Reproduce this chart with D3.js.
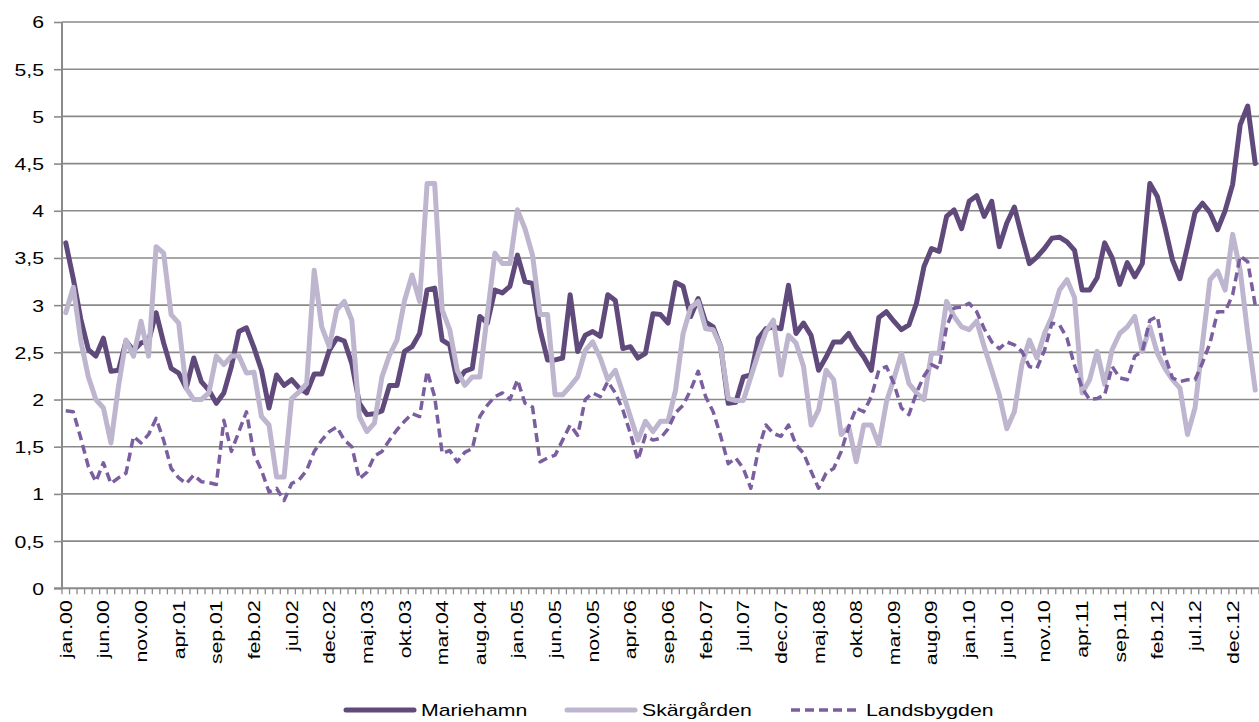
<!DOCTYPE html>
<html>
<head>
<meta charset="utf-8">
<script src="https://cdn.jsdelivr.net/npm/d3@7"></script>
<style>
  html, body { margin: 0; padding: 0; background: #fff; }
  svg { display: block; font-family: "Liberation Sans", Arial, sans-serif; }
</style>
</head>
<body>
<svg id="chart" width="1259" height="722"></svg>
<script>
// ---- Data ----
const monthNames = ["jan","feb","mar","apr","maj","jun","jul","aug","sep","okt","nov","dec"];
const startYear = 2000;
const monthCount = 159; // jan.00 – mar.13

const tickLabels = ["jan.00","jun.00","nov.00","apr.01","sep.01","feb.02","jul.02","dec.02","maj.03","okt.03",
  "mar.04","aug.04","jan.05","jun.05","nov.05","apr.06","sep.06","feb.07","jul.07","dec.07",
  "maj.08","okt.08","mar.09","aug.09","jan.10","jun.10","nov.10","apr.11","sep.11","feb.12",
  "jul.12","dec.12"];

const yTicks = [0,0.5,1,1.5,2,2.5,3,3.5,4,4.5,5,5.5,6];

const seriesNames = ["Mariehamn","Skärgården","Landsbygden"];

const mariehamn = [3.66,3.28,2.85,2.53,2.46,2.65,2.30,2.31,2.62,2.52,2.60,2.62,2.92,2.60,2.33,2.28,2.12,2.44,2.19,2.10,
  1.96,2.07,2.35,2.72,2.76,2.55,2.31,1.91,2.26,2.15,2.21,2.12,2.07,2.27,2.27,2.52,2.65,2.62,2.38,1.96,
  1.84,1.85,1.88,2.15,2.15,2.51,2.56,2.70,3.16,3.18,2.63,2.58,2.19,2.30,2.33,2.88,2.81,3.16,3.13,3.20,
  3.53,3.25,3.23,2.74,2.42,2.42,2.44,3.11,2.51,2.68,2.72,2.67,3.11,3.05,2.54,2.56,2.44,2.49,2.91,2.90,
  2.81,3.24,3.20,2.88,3.07,2.82,2.77,2.56,1.96,1.97,2.24,2.26,2.65,2.75,2.77,2.75,3.21,2.70,2.81,2.68,
  2.31,2.45,2.61,2.61,2.70,2.56,2.45,2.31,2.87,2.93,2.83,2.74,2.79,3.02,3.41,3.60,3.57,3.94,4.01,3.81,
  4.10,4.16,3.94,4.10,3.62,3.87,4.04,3.73,3.44,3.51,3.60,3.71,3.72,3.67,3.58,3.16,3.16,3.29,3.66,3.50,
  3.22,3.45,3.30,3.44,4.29,4.15,3.83,3.48,3.28,3.62,3.98,4.08,3.98,3.80,4.00,4.28,4.91,5.11,4.50];

const skargarden = [2.92,3.19,2.62,2.24,2.00,1.91,1.54,2.14,2.63,2.46,2.83,2.46,3.62,3.55,2.90,2.81,2.12,2.00,2.00,2.07,
  2.46,2.37,2.46,2.46,2.28,2.29,1.82,1.73,1.18,1.18,2.01,2.08,2.17,3.37,2.77,2.56,2.95,3.04,2.84,1.82,
  1.66,1.75,2.24,2.47,2.63,3.05,3.32,3.04,4.29,4.29,2.95,2.74,2.31,2.15,2.24,2.24,2.90,3.55,3.44,3.44,
  4.01,3.81,3.53,2.90,2.90,2.05,2.05,2.14,2.24,2.52,2.61,2.44,2.21,2.31,2.07,1.82,1.57,1.77,1.66,1.77,
  1.77,2.10,2.70,2.97,3.04,2.75,2.74,2.56,2.01,1.99,1.99,2.24,2.49,2.72,2.84,2.26,2.68,2.60,2.35,1.73,
  1.89,2.31,2.21,1.63,1.71,1.34,1.73,1.73,1.52,1.97,2.22,2.49,2.17,2.07,2.00,2.49,2.49,3.04,2.88,2.77,
  2.74,2.83,2.56,2.31,2.05,1.69,1.87,2.37,2.63,2.44,2.70,2.88,3.16,3.27,3.08,2.07,2.21,2.51,2.16,2.53,
  2.70,2.77,2.88,2.51,2.77,2.49,2.33,2.21,2.12,1.63,1.91,2.60,3.27,3.36,3.16,3.75,3.37,2.70,2.10];

const landsbygden = [1.88,1.87,1.59,1.29,1.13,1.33,1.11,1.17,1.22,1.61,1.54,1.63,1.80,1.57,1.27,1.17,1.11,1.20,1.13,1.12,
  1.10,1.78,1.45,1.66,1.87,1.42,1.25,1.02,1.06,0.93,1.11,1.15,1.25,1.45,1.57,1.66,1.71,1.57,1.50,1.16,
  1.23,1.40,1.45,1.57,1.68,1.77,1.85,1.82,2.30,2.03,1.43,1.46,1.34,1.44,1.48,1.82,1.94,2.03,2.07,2.00,
  2.21,1.96,1.92,1.34,1.38,1.41,1.57,1.73,1.62,2.00,2.07,2.03,2.19,2.07,1.89,1.64,1.36,1.62,1.57,1.59,
  1.69,1.86,1.94,2.10,2.30,2.03,1.87,1.61,1.32,1.38,1.27,1.06,1.47,1.73,1.64,1.61,1.73,1.52,1.43,1.24,
  1.06,1.22,1.27,1.45,1.71,1.91,1.87,2.03,2.31,2.35,2.17,1.91,1.84,2.07,2.25,2.37,2.33,2.77,2.97,2.98,
  3.02,2.93,2.75,2.61,2.54,2.61,2.58,2.51,2.35,2.33,2.52,2.81,2.79,2.65,2.36,2.12,2.00,2.01,2.05,2.35,
  2.23,2.21,2.46,2.51,2.84,2.88,2.46,2.23,2.19,2.21,2.21,2.39,2.60,2.93,2.93,3.11,3.52,3.46,3.00];

// categories built from month names
const categories = d3.range(monthCount).map(i =>
  monthNames[i % 12] + "." + String((startYear + Math.floor(i / 12)) % 100).padStart(2, "0"));

// ---- Layout ----
const svg = d3.select("#chart");
const plotLeft = 62, plotRight = 1259, plotTop = 22, plotBottom = 588.3;
const x = d3.scaleBand().domain(categories).range([plotLeft, plotRight]).padding(0);
const y = d3.scaleLinear().domain([0, 6]).range([plotBottom, plotTop]);
const cx = c => x(c) + x.bandwidth() / 2;

const gridColor = "#8a8a8a";
const colors = { "Mariehamn": "#604A7B", "Skärgården": "#BEB5CF", "Landsbygden": "#7A5E9F" };
const locale = d3.formatLocale({ decimal: ",", thousands: " ", grouping: [3], currency: ["", ""] });
const fmt = v => locale.format("~g")(v);
const textScale = 1.25;

// gridlines
svg.append("g").selectAll("line").data(yTicks.filter(d => d > 0)).join("line")
  .attr("x1", plotLeft).attr("x2", plotRight)
  .attr("y1", d => y(d)).attr("y2", d => y(d))
  .attr("stroke", gridColor).attr("stroke-width", 1.6);

// y axis
const yAxis = svg.append("g").attr("transform", `translate(${plotLeft},0)`)
  .call(d3.axisLeft(y).tickValues(yTicks).tickSize(8).tickFormat(fmt));
yAxis.select(".domain").attr("stroke", gridColor).attr("stroke-width", 2).attr("d", `M0,${plotTop}V${plotBottom}`);
yAxis.selectAll(".tick line").attr("stroke", gridColor).attr("stroke-width", 1.6);
yAxis.selectAll(".tick text")
  .attr("x", 0).attr("dy", "0.35em")
  .attr("transform", `translate(-18,0) scale(${textScale},1)`)
  .attr("font-size", 17).attr("fill", "#000")
  .attr("font-family", "Liberation Sans, Arial, sans-serif");

// x axis with labels
const xAxis = svg.append("g").attr("transform", `translate(0,${plotBottom})`)
  .call(d3.axisBottom(x).tickValues(categories.filter(c => tickLabels.includes(c))).tickSize(0));
xAxis.select(".domain").attr("stroke", gridColor).attr("stroke-width", 2).attr("d", `M${plotLeft - 8},0H${plotRight}`);
xAxis.selectAll(".tick text")
  .attr("x", 0).attr("y", 0).attr("dy", "0.35em")
  .attr("text-anchor", "end")
  .attr("transform", `translate(0,12) rotate(-90) scale(${textScale},1)`)
  .attr("font-size", 17).attr("fill", "#000")
  .attr("font-family", "Liberation Sans, Arial, sans-serif");

// minor ticks at band boundaries
const boundaries = categories.map(c => x(c)).concat([plotRight]);
svg.append("g").selectAll("line").data(boundaries).join("line")
  .attr("x1", d => d).attr("x2", d => d)
  .attr("y1", plotBottom).attr("y2", plotBottom + 6)
  .attr("stroke", gridColor).attr("stroke-width", 1.3);

// lines
const seriesData = [
  { name: "Mariehamn", values: mariehamn, width: 5, dash: null },
  { name: "Skärgården", values: skargarden, width: 5, dash: null },
  { name: "Landsbygden", values: landsbygden, width: 3.5, dash: "9,5" }
];
const line = d3.line().x((d, i) => cx(categories[i])).y(d => y(d));
svg.append("g").selectAll("path").data(seriesData).join("path")
  .attr("d", s => line(s.values))
  .attr("fill", "none")
  .attr("stroke", s => colors[s.name])
  .attr("stroke-width", s => s.width)
  .attr("stroke-linejoin", "round")
  .attr("stroke-linecap", s => s.dash ? "butt" : "round")
  .attr("stroke-dasharray", s => s.dash);

// legend
const legendY = 710;
const legendX = [346, 567, 791];
const lg = svg.append("g").selectAll("g").data(seriesData).join("g")
  .attr("transform", (s, i) => `translate(${legendX[i]},${legendY})`);
lg.append("line").attr("x1", 0).attr("x2", 68).attr("y1", 0).attr("y2", 0)
  .attr("stroke", s => colors[s.name])
  .attr("stroke-width", s => s.width)
  .attr("stroke-linecap", s => s.dash ? "butt" : "round")
  .attr("stroke-dasharray", s => s.dash);
lg.append("text").text(s => s.name)
  .attr("dy", "0.35em")
  .attr("transform", `translate(75,0) scale(${textScale},1)`)
  .attr("font-size", 17).attr("fill", "#000");
</script>
</body>
</html>
